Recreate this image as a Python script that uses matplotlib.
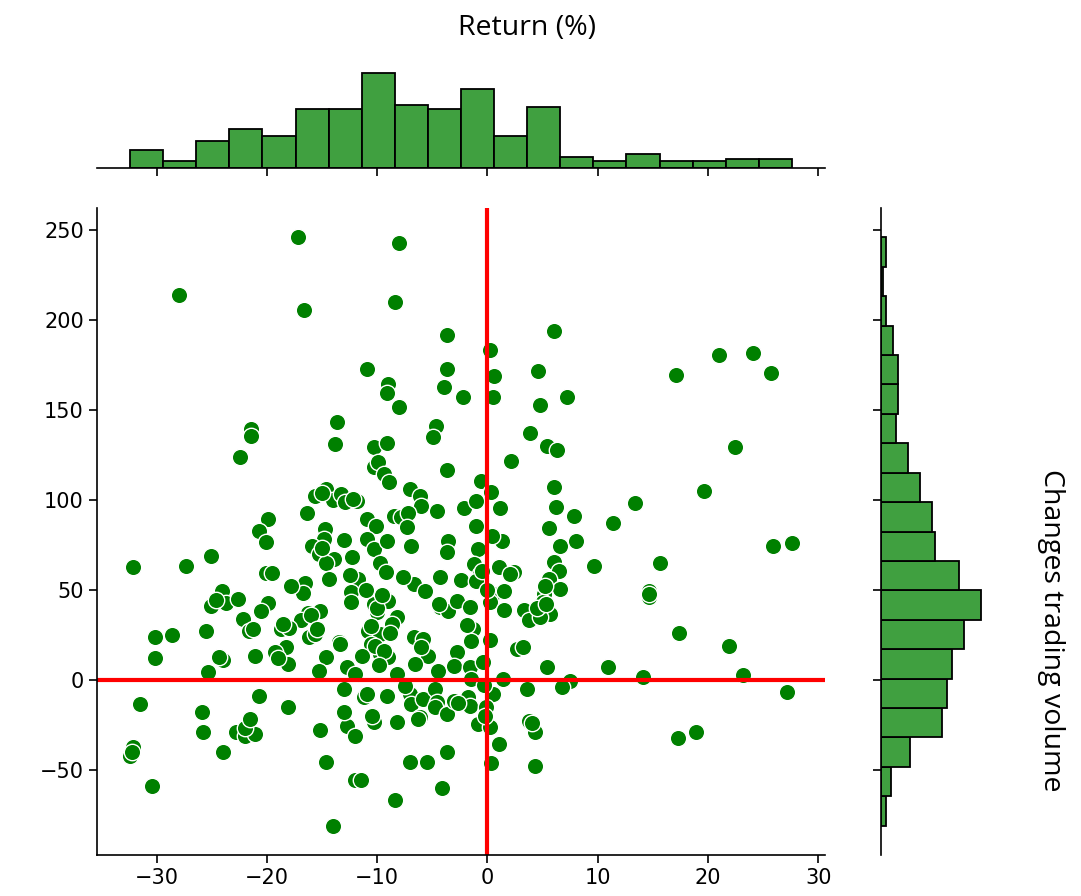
import matplotlib
matplotlib.use("Agg")
import matplotlib.pyplot as plt
import seaborn as sns

# return (%) and change in trading volume
returns = [
    -17.2, -28.0, -16.6, -21.4, -21.4, -13.6, -13.8, -22.4, -15.6, -14.6,
    -14.0, -13.3, -16.4, -19.9, -20.7, -20.1, -14.7, -14.8, -15.9, -13.0,
    -15.3, -13.9, -14.6, -14.4, -32.1, -27.3, -25.1, -20.1, -19.5, -16.5,
    -16.7, -24.1, -23.7, -25.1, -19.9, -20.5, -16.3, -16.9, -15.2, -22.2,
    -21.6, -30.1, -28.6, -25.5, -18.7, -18.0, -18.3, -16.2, -15.6, -13.5,
    -30.1, -24.0, -21.1, -19.3, -18.1, -14.6, -25.3, -15.3, -31.5, -20.7,
    -18.1, -25.9, -25.8, -22.8, -21.7, -22.0, -21.1, -15.2, -32.1, -32.4,
    -24.0, -14.6, -30.4, -14.0,
    -8.0, -8.4, -3.7, 6.0, 0.2, -10.9, -3.7, 0.6, 4.6, -9.0,
    -9.1, -3.9, -2.2, 0.5, 4.8, 7.2, -8.0, 17.1, 21.0, 24.1, 25.7,
    -4.7, -4.9, 3.9, 5.4, 6.3, 2.1, -10.3, -9.1, -10.3, -9.9,
    -9.4, -3.7, -0.6, -7.0, -6.1, -6.0, -12.9, -11.8, -8.5, -7.8,
    -7.2, -4.6, -2.1, -1.0, 1.1, 6.0, 6.2, 7.8, -10.9, -10.1,
    -1.0, 5.6, -10.9, -10.3, -9.1, -6.9, -3.6, -3.7, -0.9, 1.3,
    6.6, 8.0, -12.3, -9.7, -1.2, -0.7, 1.0, 2.4, 2.0, 6.0,
    6.5, 5.6, -11.7, -12.4, -12.4, -6.7, -5.7, -4.3, -2.4, -1.0,
    0.5, 1.5, 6.6, 5.1, -9.4, -9.0, -10.3, -10.0, -8.2, -8.7,
    -4.3, -3.6, -2.8, -1.6, 0.2, 1.5, 3.3, 3.8, 5.0, 5.7,
    4.8, -1.3, -10.8, -9.7, -6.7, -5.8,
    22.4, 19.6, 13.4, 11.4, 25.9, 27.6, 9.7, 15.6, 14.6, 14.6,
    17.4, 21.9, 10.9, 14.1, 23.2, 27.2, 17.3, 18.9,
    -10.6, -9.7, -9.0, -11.4, -5.4, -6.6, -12.7, -8.2, -4.5, -2.8,
    -3.0, -1.5, -1.6, -1.5, 2.7, 3.2, 5.4, 1.4, 7.5, 6.8,
    3.6, 0.5, -13.0, -11.2, -10.9, -9.1, -7.0, -6.9, -5.8, -4.8,
    -4.6, -4.8, -3.7, -3.0, -1.8, -1.6, -0.1, -0.9, 0.2, -6.1,
    -12.7, -12.0, -10.3, -8.2, 1.0, -3.7, -7.0, -5.5, 0.3, 3.8,
    4.3, 4.3, -12.0, -11.5, -4.1, -8.4,
    # points hidden in the dense, overlapping clusters
    -10.2, -9.4, -10.0, -9.6, -10.6, -9.2, -8.9, -10.5, -9.8, -11.0,
    -8.8, -0.5, 0.0, -0.3, 0.2, -0.4, -0.2, 0.4, -1.9, 0.3,
    -13.4, -12.0, -12.5, -13.0, -12.2, -7.5, -6.0, -7.7, -6.3, -7.3,
    -22.0, -21.3, -22.6, -21.5, -18.5, -19.0, -17.8, -15.0, -16.0, -15.5,
    -15.0, 4.5, 5.2, 4.0, 5.3, -24.6, -24.3, -4.4, -2.7, -32.2,
    14.6,
]
volume_change = [
    245.7, 213.7, 205.6, 139.4, 135.6, 143.3, 131.0, 123.5, 102.0, 106.0,
    99.6, 103.0, 92.4, 89.3, 82.4, 76.3, 83.7, 78.0, 74.4, 77.4,
    69.8, 66.9, 64.6, 55.9, 62.4, 63.3, 68.9, 59.0, 59.0, 53.5,
    48.0, 49.0, 42.4, 41.0, 42.4, 38.0, 36.8, 33.1, 38.0, 33.7,
    26.9, 23.5, 25.0, 26.8, 28.1, 28.7, 18.0, 23.5, 25.4, 21.0,
    11.9, 11.1, 13.3, 15.6, 8.7, 12.4, 4.1, 5.0, -13.5, -8.9,
    -15.4, -17.8, -29.3, -28.9, -24.6, -31.1, -30.2, -28.0, -37.6, -42.2,
    -40.0, -45.6, -58.9, -81.1,
    242.6, 210.0, 191.5, 193.5, 183.3, 172.6, 172.6, 168.9, 171.3, 164.3,
    159.3, 162.4, 156.9, 156.9, 152.6, 156.9, 151.3, 169.3, 180.4, 181.5, 170.4,
    141.0, 134.6, 136.8, 130.0, 127.6, 121.3, 129.4, 131.3, 117.9, 120.7,
    114.1, 116.7, 110.6, 105.9, 102.2, 96.7, 98.5, 99.1, 91.1, 90.2,
    92.4, 93.5, 95.4, 99.4, 95.4, 106.9, 95.7, 91.1, 89.3, 85.6,
    85.6, 84.3, 78.1, 72.6, 76.9, 74.4, 77.2, 70.7, 72.6, 76.9,
    74.4, 76.9, 68.0, 64.6, 64.2, 58.7, 62.4, 59.6, 58.7, 65.2,
    60.6, 55.9, 55.9, 48.5, 43.0, 53.2, 49.1, 56.8, 55.4, 55.0,
    47.6, 49.1, 50.4, 47.6, 45.7, 43.5, 42.0, 37.4, 34.6, 30.9,
    40.2, 38.4, 43.9, 40.2, 43.0, 38.7, 38.7, 33.2, 43.0, 36.5,
    34.6, 28.2, 27.2, 25.4, 23.5, 22.6,
    129.0, 104.6, 98.0, 86.8, 74.4, 75.7, 63.3, 64.6, 49.4, 45.7,
    25.7, 18.9, 6.9, 1.3, 2.6, -6.7, -32.4, -29.3,
    19.6, 14.1, 12.4, 13.3, 13.3, 8.7, 6.9, 3.1, 5.0, 15.2,
    7.8, 21.7, 6.9, 0.4, 17.0, 17.9, 6.9, 0.4, -0.5, -4.3,
    -5.2, -8.0, -5.2, -9.8, -8.0, -8.9, -8.0, -13.5, -10.7, -5.2,
    -12.6, -15.4, -19.1, -11.7, -9.8, -14.4, -15.4, -24.6, -26.5, -20.9,
    -25.6, -31.1, -23.7, -23.7, -35.7, -40.0, -45.6, -45.6, -46.5, -22.8,
    -29.3, -47.8, -55.6, -55.6, -60.4, -66.7,
    18.5, 16.0, 40.0, 47.0, 30.0, 60.0, 110.0, -20.0, 8.0, 50.0,
    26.0, 60.5, 50.0, -3.0, 22.0, 10.0, -20.0, 80.0, 30.5, 104.0,
    20.0, 3.0, 58.0, -18.0, 100.5, -3.5, 18.0, 57.0, -22.0, 85.0,
    -27.0, 28.0, 45.0, -22.0, 31.0, 12.0, 52.0, 103.5, 36.0, 28.0,
    73.0, 40.0, 52.0, -24.0, 42.0, 44.0, 12.5, 42.0, -13.0, -40.0,
    47.5,
]

W, H = 1081, 896


def box(left, top, right, bottom):
    # pixel box -> figure fraction
    return [left / W, 1 - bottom / H, (right - left) / W, (bottom - top) / H]


fig = plt.figure(figsize=(W / 100, H / 100), dpi=100)
ax = fig.add_axes(box(97, 208, 825, 855))
ax_top = fig.add_axes(box(97, 68, 825, 168), sharex=ax)
ax_right = fig.add_axes(box(881, 208, 986, 855), sharey=ax)

sns.scatterplot(x=returns, y=volume_change, color='green', s=140,
                edgecolor='white', linewidth=1, ax=ax)
ax.axhline(0, color='red', lw=3)
ax.axvline(0, color='red', lw=3)

ax_top.hist(returns, bins=20, facecolor='#40a040', edgecolor='black', linewidth=1.3)
ax_right.hist(volume_change, bins=20, orientation='horizontal',
              facecolor='#40a040', edgecolor='black', linewidth=1.3)

ax.tick_params(labelsize=15, length=6, width=1.2)
for a in (ax_top, ax_right):
    a.tick_params(length=6, width=1.2)
ax_top.tick_params(axis='x', labelbottom=False)
ax_top.set_yticks([])
ax_right.tick_params(axis='y', labelleft=False)
ax_right.set_xticks([])

sns.despine(ax=ax)
sns.despine(ax=ax_top, left=True)
sns.despine(ax=ax_right, bottom=True)
for a in (ax, ax_top, ax_right):
    for s in a.spines.values():
        s.set_linewidth(1.2)

fig.text(527 / W, 1 - 28 / H, 'Return (%)', ha='center', va='center',
         fontsize=20.5, family='Open Sans')
fig.text(1051 / W, 1 - 630 / H, 'Changes trading volume', ha='center', va='center',
         rotation=270, fontsize=20.5, family='Open Sans')

fig.savefig('out.png', dpi=100)
